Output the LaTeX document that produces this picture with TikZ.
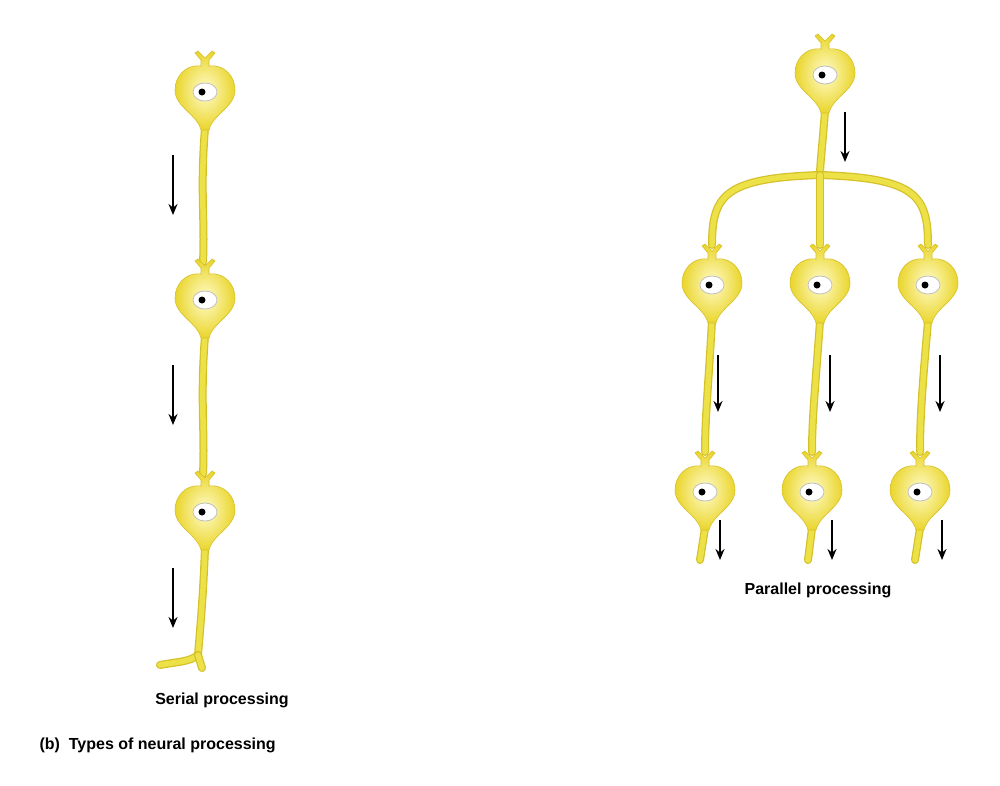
\documentclass[tikz,border=0pt]{standalone}
\usepackage{fontspec}
\setmainfont{Liberation Sans}
\usetikzlibrary{arrows.meta}
\definecolor{axo}{HTML}{EDE148}
\definecolor{axe}{HTML}{D6C02A}
\definecolor{bodyin}{HTML}{FFFCCB}
\definecolor{bodyout}{HTML}{EAD52C}
\tikzset{
 x=1pt,y=-1pt,
 axon/.style={line width=8pt,axe,line cap=round},
 axoni/.style={line width=5.5pt,axo,line cap=round},
 flow/.style={line width=2.2pt,-{Stealth[length=11pt,width=9pt]}},
 lab/.style={font=\bfseries\fontsize{16}{19}\selectfont},
 neuron/.pic={
  \shade[inner color=bodyin,outer color=bodyout,draw=axe,line width=0.6pt]
   (-4,-26) .. controls (-20,-28) and (-30,-15) .. (-30,-2)
   .. controls (-30,15) and (-8,22) .. (-4,38) -- (4,38)
   .. controls (8,22) and (30,15) .. (30,-2)
   .. controls (30,-15) and (20,-28) .. (4,-26)
   -- (4,-32) -- (10,-39) -- (7,-41) -- (0,-34) -- (-7,-41) -- (-10,-39) -- (-4,-32) -- cycle;
  \fill[white,draw=gray!50,line width=0.8pt] (0,0) ellipse (12 and 9);
  \fill[black] (-3,0) circle (3.5);
 }
}
\newcommand\axn[1]{\draw[axon] #1; \draw[axoni] #1;}
\begin{document}
\begin{tikzpicture}
\useasboundingbox (0,0) rectangle (1000,785);
% serial
\coordinate (s1) at (205,92); \coordinate (s2) at (205,300); \coordinate (s3) at (205,512);
\axn{(205,128) .. controls (200,190) and (205,220) .. (203,262)}
\axn{(205,336) .. controls (200,400) and (205,430) .. (203,474)}
\axn{(205,548) .. controls (203,600) and (200,630) .. (198,655)}
\axn{(198,655) .. controls (190,662) and (175,662) .. (160,665)}
\axn{(198,655) -- (202,668)}
\foreach \n in {s1,s2,s3} \pic at (\n) {neuron};
\coordinate (sa1) at (173,155); \coordinate (sb1) at (173,215);
\coordinate (sa2) at (173,365); \coordinate (sb2) at (173,425);
\coordinate (sa3) at (173,568); \coordinate (sb3) at (173,628);
\foreach \i in {1,2,3} \draw[flow] (sa\i) -- (sb\i);
% parallel
\coordinate (p0) at (825,75);
\coordinate (pl) at (712,285); \coordinate (pm) at (820,285); \coordinate (pr) at (928,285);
\coordinate (ql) at (705,492); \coordinate (qm) at (812,492); \coordinate (qr) at (920,492);
\axn{(825,111) .. controls (822,150) and (820,165) .. (820,175)}
\axn{(820,175) .. controls (725,178) and (712,195) .. (712,245)}
\axn{(820,175) .. controls (915,178) and (928,195) .. (928,245)}
\axn{(820,175) -- (820,245)}
\axn{(712,321) .. controls (708,390) and (705,420) .. (705,452)}
\axn{(820,321) .. controls (815,390) and (812,420) .. (812,452)}
\axn{(928,321) .. controls (922,390) and (920,420) .. (920,452)}
\axn{(705,528) -- (700,560)}
\axn{(812,528) -- (808,560)}
\axn{(920,528) -- (915,560)}
\foreach \n in {p0,pl,pm,pr,ql,qm,qr} \pic at (\n) {neuron};
\draw[flow] (845,112) -- (845,162);
\draw[flow] (718,355) -- (718,412);
\draw[flow] (830,355) -- (830,412);
\draw[flow] (940,355) -- (940,412);
\draw[flow] (720,520) -- (720,560);
\draw[flow] (832,520) -- (832,560);
\draw[flow] (942,520) -- (942,560);
\node[lab] (pt) at (818,590) {Parallel processing};
\node[lab] (st) at (222,700) {Serial processing};
\node[lab,anchor=west] (bt) at (36,745) {(b)\ \ Types of neural processing};
\end{tikzpicture}
\end{document}
